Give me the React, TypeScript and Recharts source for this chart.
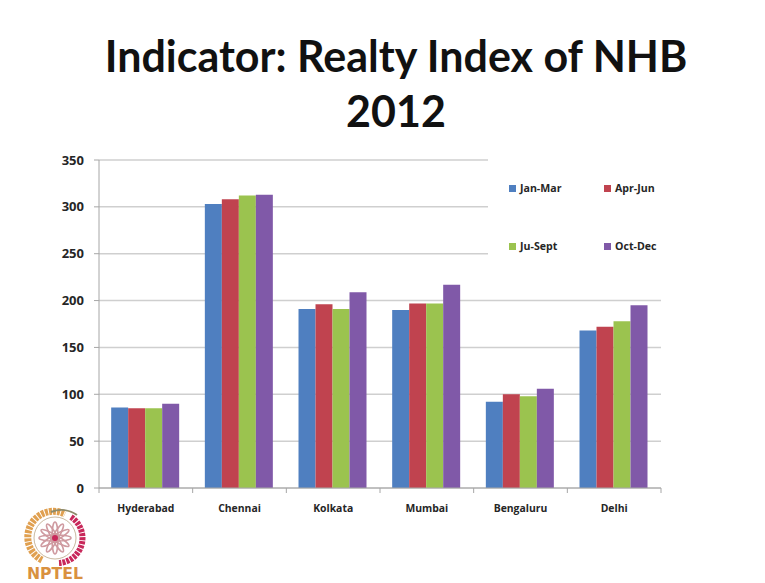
import { Bar, BarChart, CartesianGrid, Legend, XAxis, YAxis } from 'recharts';

const cities = ['Hyderabad', 'Chennai', 'Kolkata', 'Mumbai', 'Bengaluru', 'Delhi'];
const janMar = [86, 303, 191, 190, 92, 168];
const aprJun = [85, 308, 196, 197, 100, 172];
const juSept = [85, 312, 191, 197, 98, 178];
const octDec = [90, 313, 209, 217, 106, 195];
const yTicks = [0, 50, 100, 150, 200, 250, 300, 350];

const rows = cities.map((city, i) => ({
  city,
  janMar: janMar[i],
  aprJun: aprJun[i],
  juSept: juSept[i],
  octDec: octDec[i],
}));

const FONT = '"Open Sans", sans-serif';
const AXIS = '#a6a6a6';
const GRID = '#cfcfcf';

// Excel style: tick marks sit between the categories, not under them
function CityTick({ x, y, width, index, payload }: any) {
  const band = width / cities.length;
  return (
    <g>
      <line x1={x - band / 2} x2={x - band / 2} y1={y - 8} y2={y - 3} stroke={AXIS} />
      {index === cities.length - 1 && (
        <line x1={x + band / 2} x2={x + band / 2} y1={y - 8} y2={y - 3} stroke={AXIS} />
      )}
      <text x={x} y={y + 16} textAnchor="middle" fontSize={10.4} fontWeight={700} fontFamily={FONT} fill="#262626">
        {payload.value}
      </text>
    </g>
  );
}

// two by two legend on a white panel, which hides the upper gridlines behind it
function QuarterLegend({ payload }: any) {
  return (
    <div style={{ position: 'relative', width: 174, height: 133, background: '#fff' }}>
      {(payload ?? []).map((item: any, i: number) => (
        <div
          key={item.value}
          style={{
            position: 'absolute',
            left: i % 2 === 0 ? 21 : 116,
            top: i < 2 ? 24 : 82,
            display: 'flex',
            alignItems: 'center',
            fontFamily: FONT,
            fontSize: 10.6,
            fontWeight: 700,
            color: '#262626',
            whiteSpace: 'nowrap',
          }}
        >
          <span style={{ width: 7, height: 7, marginRight: 4, background: item.color }} />
          {item.value}
        </div>
      ))}
    </div>
  );
}

function NptelLogo() {
  const spokes = [0, 30, 60, 90, 120, 150];
  return (
    <svg width={80} height={83} style={{ position: 'absolute', left: 15, top: 500 }}>
      <path d="M27 60 A25 25 0 0 1 50 14" fill="none" stroke="#e0a050" strokeWidth={7} strokeDasharray="3 1" />
      <path d="M36 12 A27 27 0 0 1 62 15" fill="none" stroke="#8d8a6a" strokeWidth={2} />
      <path d="M56 17 A25 25 0 0 1 44 63" fill="none" stroke="#c8285a" strokeWidth={6} strokeDasharray="3 1" />
      <circle cx={40} cy={38} r={20} fill="#fff" />
      <circle cx={40} cy={38} r={21} fill="none" stroke="#c9b9a0" strokeWidth={1} />
      {spokes.map((deg) => (
        <ellipse
          key={deg}
          cx={40}
          cy={38}
          rx={3}
          ry={16}
          fill="none"
          stroke="#cf9aa0"
          strokeWidth={1.5}
          transform={`rotate(${deg} 40 38)`}
        />
      ))}
      <circle cx={40} cy={38} r={3} fill="#c8285a" />
      <text
        x={12}
        y={79}
        textLength={56}
        lengthAdjust="spacingAndGlyphs"
        fontFamily='"DejaVu Sans", sans-serif'
        fontSize={15}
        fontWeight={700}
        fill="#d9913f"
      >
        NPTEL
      </text>
    </svg>
  );
}

export default function App() {
  return (
    <div style={{ position: 'absolute', left: 0, top: 0, width: 765, height: 583, background: '#fff', overflow: 'hidden' }}>
      <div
        style={{
          position: 'absolute',
          left: 0,
          top: 28,
          width: 792,
          textAlign: 'center',
          fontFamily: 'Lato, sans-serif',
          fontWeight: 700,
          fontSize: 43,
          lineHeight: '55px',
          color: '#111',
        }}
      >
        Indicator: Realty Index of NHB
        <br />
        2012
      </div>
      <BarChart
        width={765}
        height={583}
        data={rows}
        margin={{ top: 160, right: 104, bottom: 65, left: 59 }}
        barCategoryGap="13%"
        barGap={0}
        style={{ position: 'absolute', left: 0, top: 0 }}
      >
        <CartesianGrid vertical={false} stroke={GRID} strokeWidth={1.5} />
        <XAxis dataKey="city" height={30} stroke={AXIS} tickLine={false} tick={<CityTick />} interval={0} />
        <YAxis
          width={40}
          domain={[0, 350]}
          ticks={yTicks}
          stroke={AXIS}
          tickSize={5}
          tickMargin={10}
          tick={{ fontSize: 13, fontWeight: 700, fontFamily: FONT, fill: '#262626' }}
        />
        <Legend
          content={<QuarterLegend />}
          layout="horizontal"
          verticalAlign="middle"
          align="center"
          itemSorter={null}
          wrapperStyle={{ position: 'absolute', left: 488, top: 157, width: 174, height: 133 }}
        />
        <Bar dataKey="janMar" name="Jan-Mar" fill="#4f7fc0" isAnimationActive={false} />
        <Bar dataKey="aprJun" name="Apr-Jun" fill="#c0434f" isAnimationActive={false} />
        <Bar dataKey="juSept" name="Ju-Sept" fill="#9bc34f" isAnimationActive={false} />
        <Bar dataKey="octDec" name="Oct-Dec" fill="#8059a8" isAnimationActive={false} />
      </BarChart>
      <NptelLogo />
    </div>
  );
}
